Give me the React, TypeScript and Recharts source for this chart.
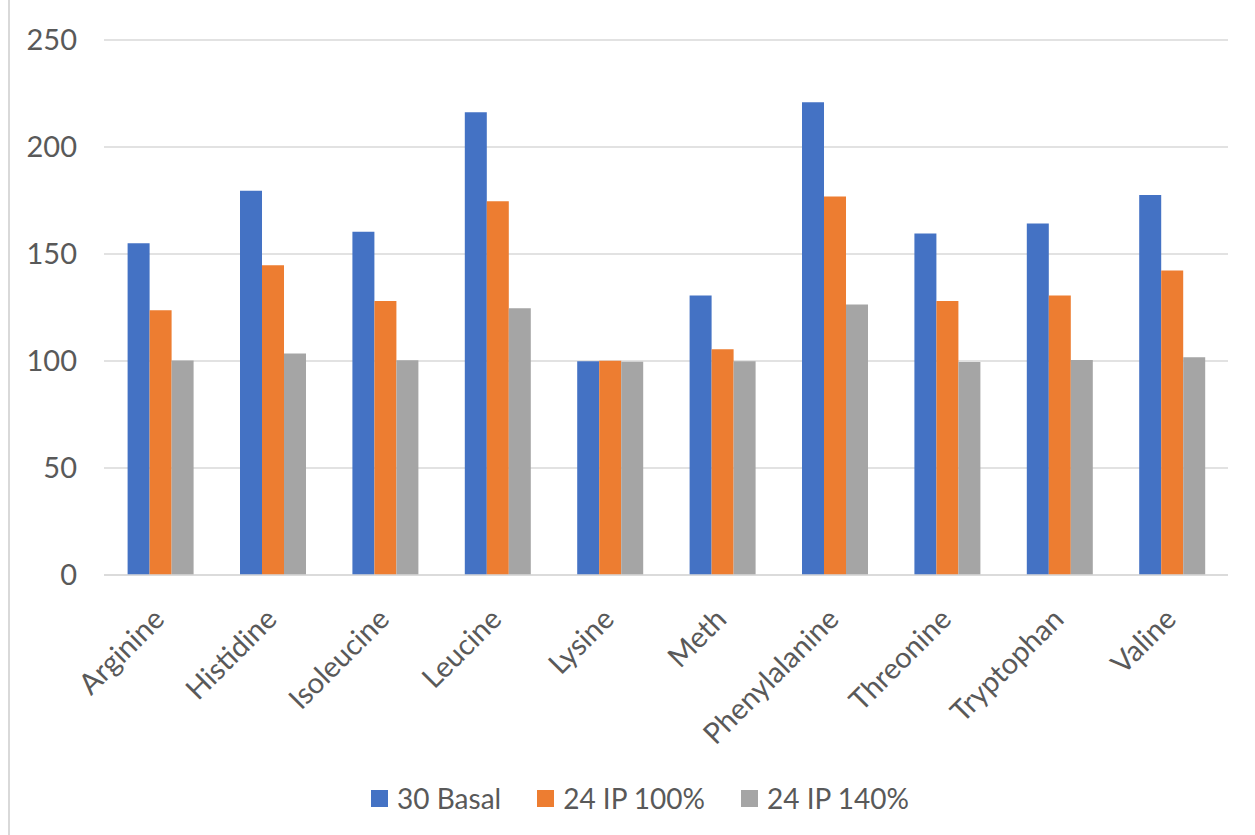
import { BarChart, Bar, XAxis, YAxis, CartesianGrid, Legend } from 'recharts'

const categories = [
  'Arginine',
  'Histidine',
  'Isoleucine',
  'Leucine',
  'Lysine',
  'Meth',
  'Phenylalanine',
  'Threonine',
  'Tryptophan',
  'Valine',
]

const basal30 = [155.0, 179.6, 160.4, 216.2, 99.9, 130.6, 220.9, 159.6, 164.3, 177.6]
const ip100 = [123.7, 144.8, 128.0, 174.6, 100.1, 105.5, 176.9, 128.0, 130.6, 142.3]
const ip140 = [100.2, 103.5, 100.3, 124.7, 99.6, 99.9, 126.4, 99.5, 100.5, 101.8]

const yTicks = [0, 50, 100, 150, 200, 250]

const series = [
  { key: 'basal30', name: '30 Basal', color: '#4472C4' },
  { key: 'ip100', name: '24 IP 100%', color: '#ED7D31' },
  { key: 'ip140', name: '24 IP 140%', color: '#A5A5A5' },
]

const data = categories.map((name, i) => ({
  name,
  basal30: basal30[i],
  ip100: ip100[i],
  ip140: ip140[i],
}))

const FONT = 'Lato, "Open Sans", sans-serif'
const TEXT = '#595959'
const GRID = '#D9D9D9'

const CategoryTick = ({ x, y, payload }: any) => (
  <g transform={`translate(${x + 6},${y + 46})`}>
    <text textAnchor="end" transform="rotate(-45)" fill={TEXT} fontSize={29} fontFamily={FONT}>
      {payload.value}
    </text>
  </g>
)

const LegendBox = () => (
  <div
    style={{
      display: 'flex',
      justifyContent: 'center',
      alignItems: 'center',
      height: 40,
      paddingLeft: 52,
      fontFamily: FONT,
      fontSize: 28,
      color: TEXT,
    }}
  >
    {series.map((s, i) => (
      <div key={s.key} style={{ display: 'flex', alignItems: 'center', marginLeft: i ? 36 : 0 }}>
        <span style={{ width: 17, height: 17, background: s.color, marginRight: 9, display: 'inline-block' }} />
        <span>{s.name}</span>
      </div>
    ))}
  </div>
)

export default function App() {
  return (
    <div style={{ position: 'absolute', left: 0, top: 0, width: 1255, height: 835, background: '#fff' }}>
      <div style={{ position: 'absolute', left: 8, top: 0, width: 1.5, height: 835, background: GRID }} />
      <BarChart
        width={1255}
        height={835}
        data={data}
        margin={{ top: 40, right: 27, left: 0, bottom: 17 }}
        barCategoryGap="21%"
        barGap={0}
      >
        <CartesianGrid vertical={false} stroke={GRID} strokeWidth={1.5} />
        <XAxis
          dataKey="name"
          interval={0}
          height={203}
          tickLine={false}
          tickSize={0}
          tickMargin={0}
          axisLine={{ stroke: GRID, strokeWidth: 1.5 }}
          tick={<CategoryTick />}
        />
        <YAxis
          width={104}
          domain={[0, 250]}
          ticks={yTicks}
          axisLine={false}
          tickLine={false}
          tickSize={0}
          tickMargin={27}
          tick={{ fill: TEXT, fontSize: 29, fontFamily: FONT }}
        />
        <Legend verticalAlign="bottom" content={<LegendBox />} />
        {series.map((s) => (
          <Bar key={s.key} dataKey={s.key} name={s.name} fill={s.color} isAnimationActive={false} />
        ))}
      </BarChart>
    </div>
  )
}
